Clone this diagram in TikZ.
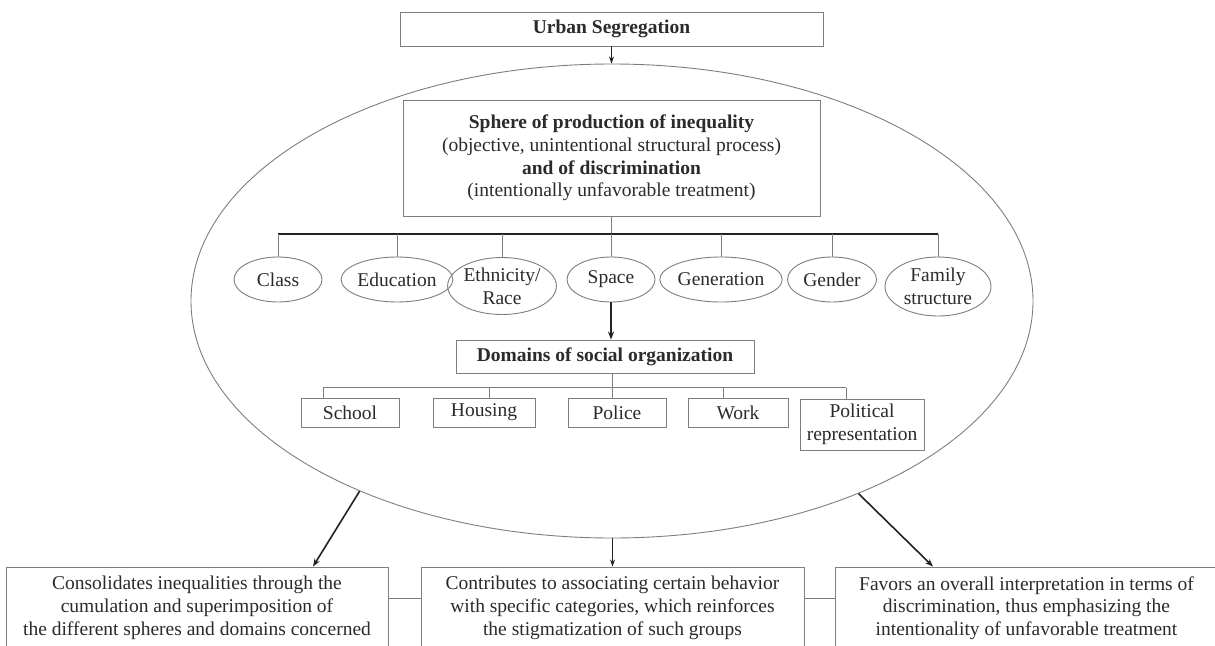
\documentclass[tikz,border=0pt]{standalone}
\usepackage{fontspec}
\setmainfont{Liberation Serif}
\usetikzlibrary{shapes.geometric,arrows.meta,calc}
\definecolor{txt}{HTML}{2B2B2B}
\definecolor{frame}{HTML}{7E7E7E}
\definecolor{dark}{HTML}{222222}
\begin{document}
\begin{tikzpicture}[x=1pt,y=-1pt,
  every node/.style={text=txt,font=\fontsize{19.5}{22.7}\selectfont,inner sep=0pt,align=center},
  boxnode/.style={draw=frame,line width=0.9pt,rectangle},
  ellnode/.style={draw=frame,line width=0.9pt,ellipse},
  thin/.style={draw=frame,line width=0.9pt},
  bar/.style={draw=dark,line width=1.2pt},
  arr/.style={draw=dark,line width=1.1pt,-{Stealth[length=7pt,width=5pt]}},
  bigarr/.style={draw=dark,line width=1.6pt,-{Stealth[length=8pt,width=6pt]}}]
\useasboundingbox (0,0) rectangle (1215,645);
\clip (0,0) rectangle (1215,645);
\fill[white] (0,0) rectangle (1215,645);

% big ellipse
\node[ellnode,minimum width=842pt,minimum height=474pt] (big) at (612,301) {};

% top box
\node[boxnode,minimum width=423pt,minimum height=34pt] (urban) at (611.5,29) {\textbf{Urban Segregation}};
\draw[arr] (urban.south) -- (urban.south |- big.north);

% sphere box
\node[boxnode,minimum width=417pt,minimum height=116pt] (sphere) at (611.5,158)
  {\textbf{Sphere of production of inequality}\\(objective, unintentional structural process)\\\textbf{and of discrimination}\\(intentionally unfavorable treatment)};

% category ellipses
\node[ellnode,minimum width=88pt,minimum height=45pt] (class) at (278,279.5) {Class};
\node[ellnode,minimum width=100pt,minimum height=45pt] (edu) at (397,279.5) {Education};
\node[ellnode,minimum width=105pt,minimum height=57pt] (eth) at (502,286) {Ethnicity/\\Race};
\node[ellnode,minimum width=88pt,minimum height=45pt] (space) at (611,279.5) {Space};
\node[ellnode,minimum width=105pt,minimum height=45pt] (gen) at (721,279.5) {Generation};
\node[ellnode,minimum width=89pt,minimum height=45pt] (gend) at (832,279.5) {Gender};
\node[ellnode,minimum width=106pt,minimum height=59pt] (fam) at (938,286.5) {Family\\structure};

\coordinate (tbar) at (612,234);
\draw[thin] (sphere.south) -- (sphere.south |- tbar);
\draw[bar] (tbar -| class.north) -- (tbar -| fam.north);
\foreach \n in {class,edu,eth,space,gen,gend,fam}
  \draw[thin] (tbar -| \n.north) -- (\n.north);

% domains
\node[boxnode,minimum width=298pt,minimum height=33pt] (dom) at (605,356.5) {\textbf{Domains of social organization}};
\draw[bigarr] (space.south) -- (space.south |- dom.north);

\node[boxnode,minimum width=98pt,minimum height=29pt] (school) at (350,412.5) {School};
\node[boxnode,minimum width=102pt,minimum height=29pt] (housing) at (484,412.5) {Housing};
\node[boxnode,minimum width=98pt,minimum height=29pt] (police) at (617,412.5) {Police};
\node[boxnode,minimum width=100pt,minimum height=29pt] (work) at (738,412.5) {Work};
\node[boxnode,minimum width=124pt,minimum height=51pt] (pol) at (862,424.5) {Political\\representation};

\coordinate (dS) at (323,387.5);
\coordinate (dH) at (489,387.5);
\coordinate (dP) at (612,387.5);
\coordinate (dW) at (723,387.5);
\coordinate (dR) at (846,387.5);
\draw[thin] (dP |- dom.south) -- (dP);
\draw[thin] (dS) -- (dR);
\draw[thin] (dS) -- (dS |- school.north);
\draw[thin] (dH) -- (dH |- housing.north);
\draw[thin] (dP) -- (dP |- police.north);
\draw[thin] (dW) -- (dW |- work.north);
\draw[thin] (dR) -- (dR |- pol.north);

% bottom boxes
\node[boxnode,minimum width=382pt,minimum height=82pt] (b1) at (197,608)
  {Consolidates inequalities through the\\cumulation and superimposition of\\the different spheres and domains concerned};
\node[boxnode,minimum width=383pt,minimum height=82pt] (b2) at (612.5,608)
  {Contributes to associating certain behavior\\with specific categories, which reinforces\\the stigmatization of such groups};
\node[boxnode,minimum width=383pt,minimum height=82pt] (b3) at (1026.5,608)
  {Favors an overall interpretation in terms of\\discrimination, thus emphasizing the\\intentionality of unfavorable treatment};

\draw[thin] ($(b1.east)+(0,-10)$) -- ($(b2.west)+(0,-10)$);
\draw[thin] ($(b2.east)+(0,-10)$) -- ($(b3.west)+(0,-10)$);

\draw[bigarr] (big.217.7) -- ($(b1.north)+(116,0)$);
\draw[arr] (big.south -| b2.north) -- (b2.north);
\draw[bigarr] (big.322.8) -- ($(b3.north)+(-93.5,0)$);
\end{tikzpicture}
\end{document}
